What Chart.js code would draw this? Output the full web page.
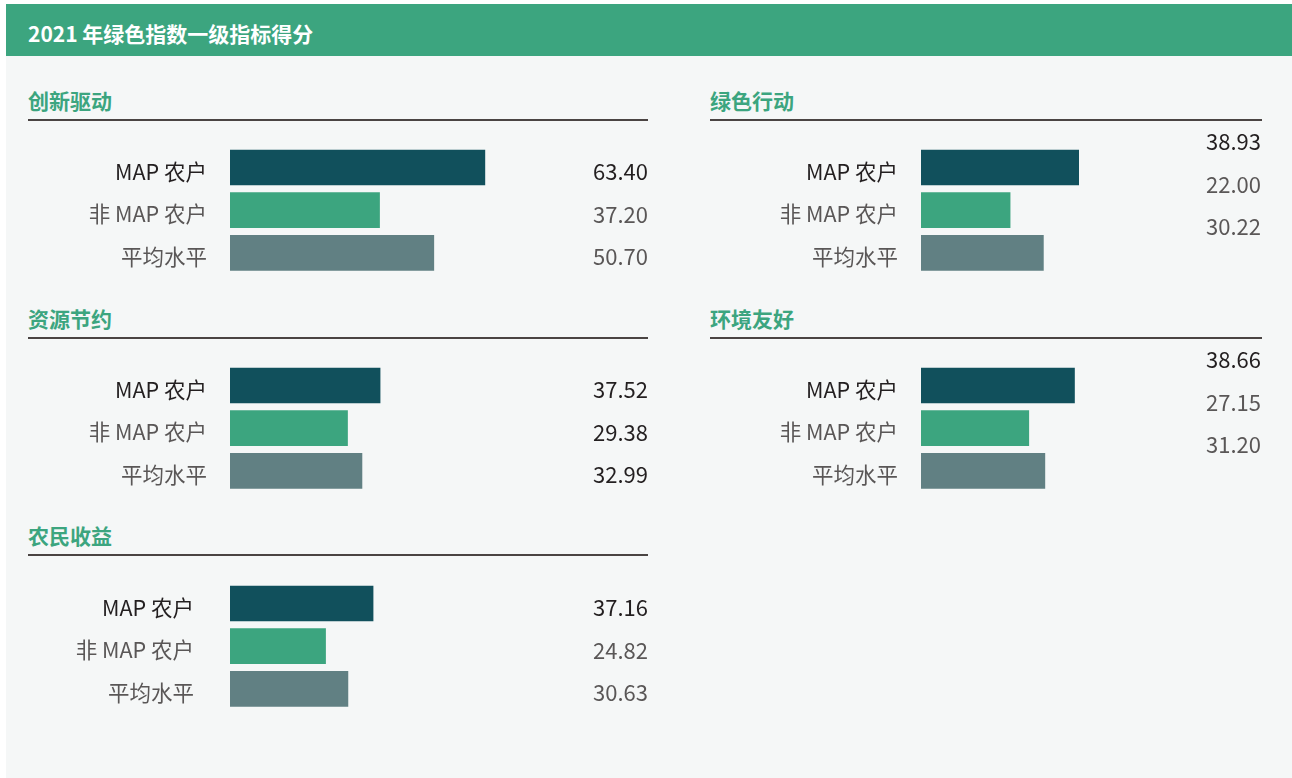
<!DOCTYPE html>
<html>
<head>
<meta charset="utf-8">
<script src="https://cdn.jsdelivr.net/npm/chart.js@4/dist/chart.umd.min.js"></script>
<style>
  html, body { margin: 0; padding: 0; background: #ffffff; }
  body { width: 1292px; height: 778px; position: relative; overflow: hidden; font-family: "Noto Sans CJK SC", "Noto Sans", sans-serif; }
  #bg { position: absolute; left: 6px; top: 4px; width: 1286px; height: 774px; background: #f5f7f7; }
  #header { position: absolute; left: 6px; top: 4px; width: 1286px; height: 52px; background: #3ca57f; }
  #header span { position: absolute; left: 22px; top: 0; line-height: 58px; color: #ffffff; font-size: 21px; font-weight: 700; white-space: nowrap; }
  .ptitle { position: absolute; color: #3ca57f; font-size: 21px; font-weight: 700; line-height: 24px; white-space: nowrap; }
  .pline { position: absolute; height: 2px; background: #4a4443; }
  .box { position: absolute; }
</style>
</head>
<body>
<div id="bg"></div>
<div id="header"><span id="mainTitle"></span></div>
<div id="root"></div>
<script>
// ---- data ----
const mainTitle = '2021 年绿色指数一级指标得分';
const categories = ['MAP 农户', '非 MAP 农户', '平均水平'];
const panelTitles = ['创新驱动', '绿色行动', '资源节约', '环境友好', '农民收益'];
const innovation = [63.40, 37.20, 50.70];
const greenAction = [38.93, 22.00, 30.22];
const resourceSaving = [37.52, 29.38, 32.99];
const environment = [38.66, 27.15, 31.20];
const farmerIncome = [37.16, 24.82, 30.63];
const seriesValues = [innovation, greenAction, resourceSaving, environment, farmerIncome];

// ---- styles / layout ----
const DARK = '#231f20';
const GRAY = '#5a5757';
const barColors = ['#11505c', '#3ca57f', '#618083'];
const layout = [
  { x: 28,  lineY: 120, w: 620, barX: 230, barTop: 150, ppu: 4.02, labelPad: 23, valRight: 648, valDy: 4,   valColors: [DARK, GRAY, GRAY] },
  { x: 710, lineY: 120, w: 552, barX: 921, barTop: 150, ppu: 4.05, labelPad: 23, valRight: 1261, valDy: -26, valColors: [DARK, GRAY, GRAY] },
  { x: 28,  lineY: 338, w: 620, barX: 230, barTop: 368, ppu: 4.00, labelPad: 23, valRight: 648, valDy: 4,   valColors: [DARK, DARK, DARK] },
  { x: 710, lineY: 338, w: 552, barX: 921, barTop: 368, ppu: 3.97, labelPad: 23, valRight: 1261, valDy: -26, valColors: [DARK, GRAY, GRAY] },
  { x: 28,  lineY: 555, w: 620, barX: 230, barTop: 586, ppu: 3.85, labelPad: 36, valRight: 648, valDy: 4,   valColors: [DARK, GRAY, GRAY] }
];
const FONT = '"Noto Sans CJK SC", "Noto Sans", sans-serif';
const X_MAX = 80;
const CAT_H = 128;

document.getElementById('mainTitle').textContent = mainTitle;
const root = document.getElementById('root');

const valuePlugin = {
  id: 'valueLabels',
  afterDatasetsDraw(chart, args, opts) {
    const ctx = chart.ctx;
    const meta = chart.getDatasetMeta(0);
    const data = chart.data.datasets[0].data;
    ctx.save();
    ctx.font = '22px ' + FONT;
    ctx.textAlign = 'right';
    ctx.textBaseline = 'middle';
    meta.data.forEach((bar, i) => {
      ctx.fillStyle = opts.colors[i];
      ctx.fillText(data[i].toFixed(2), opts.right, bar.y + opts.dy);
    });
    ctx.restore();
  }
};

layout.forEach((L, p) => {
  const t = document.createElement('div');
  t.className = 'ptitle';
  t.style.left = L.x + 'px';
  t.style.top = (L.lineY - 32) + 'px';
  t.textContent = panelTitles[p];
  root.appendChild(t);

  const ln = document.createElement('div');
  ln.className = 'pline';
  ln.style.left = L.x + 'px';
  ln.style.top = (L.lineY - 1) + 'px';
  ln.style.width = L.w + 'px';
  root.appendChild(ln);

  const boxTop = L.barTop - 30;
  const boxW = L.w + 6;
  const boxH = 180;
  const box = document.createElement('div');
  box.className = 'box';
  box.style.left = L.x + 'px';
  box.style.top = boxTop + 'px';
  box.style.width = boxW + 'px';
  box.style.height = boxH + 'px';
  const cv = document.createElement('canvas');
  box.appendChild(cv);
  root.appendChild(box);

  const yAxisW = L.barX - L.x;
  const areaW = X_MAX * L.ppu;
  const padTop = 30 - (CAT_H / 3 - 35) / 2;
  const padRight = boxW - yAxisW - areaW;
  const padBottom = boxH - padTop - CAT_H;

  new Chart(cv, {
    type: 'bar',
    data: {
      labels: categories,
      datasets: [{
        data: seriesValues[p],
        backgroundColor: barColors,
        borderWidth: 0,
        barThickness: 35
      }]
    },
    options: {
      indexAxis: 'y',
      responsive: true,
      maintainAspectRatio: false,
      animation: false,
      layout: { padding: { top: padTop, bottom: padBottom, right: padRight, left: 0 } },
      plugins: {
        legend: { display: false },
        tooltip: { enabled: false },
        valueLabels: { colors: L.valColors, right: L.valRight - L.x, dy: L.valDy }
      },
      scales: {
        x: { display: false, min: 0, max: X_MAX },
        y: {
          grid: { display: false, drawTicks: true, tickLength: L.labelPad },
          border: { display: false },
          ticks: {
            padding: 0,
            labelOffset: 4,
            font: { family: FONT, size: 21.5 },
            color: (c) => (c.index === 0 ? DARK : GRAY)
          },
          afterFit(scale) { scale.width = yAxisW; }
        }
      }
    },
    plugins: [valuePlugin]
  });
});
</script>
</body>
</html>
